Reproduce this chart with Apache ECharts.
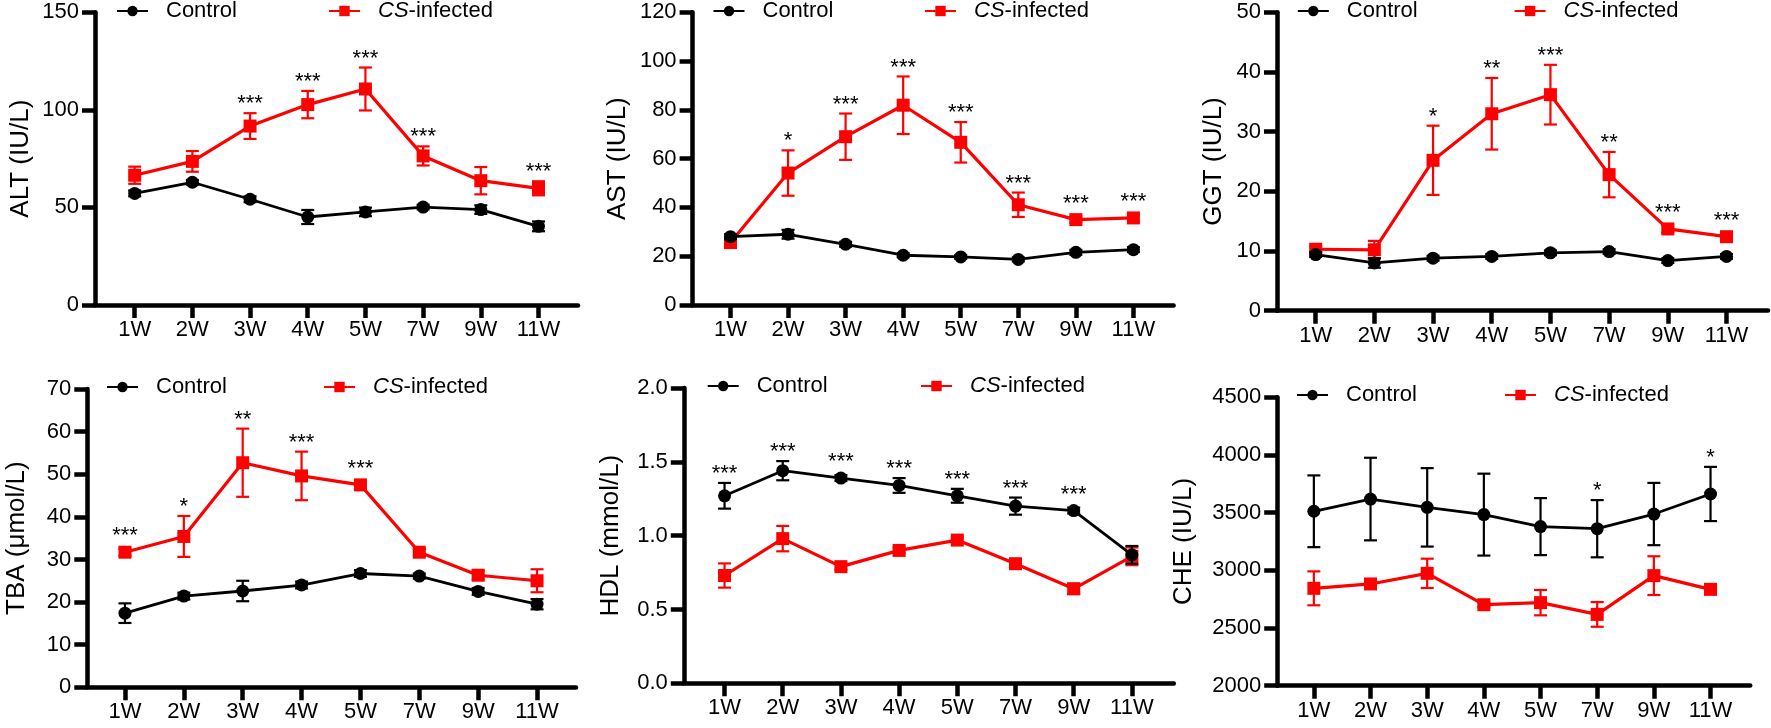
<!DOCTYPE html>
<html>
<head>
<meta charset="utf-8">
<script src="https://cdn.jsdelivr.net/npm/echarts@6/dist/echarts.min.js"></script>
<style>
  html, body { margin: 0; padding: 0; background: #fff; }
  #chart { width: 1771px; height: 728px; }
</style>
</head>
<body>
<div id="chart"></div>
<script>
const weeks = ['1W', '2W', '3W', '4W', '5W', '7W', '9W', '11W'];

const altControl = [57.2, 62.9, 54.2, 45.1, 47.7, 50.2, 48.9, 40.3];
const altControlErr = [1.5, 1.2, 1.5, 3.6, 2.2, 1.2, 2.2, 2.5];
const altInfected = [66.5, 73.6, 91.7, 102.7, 110.7, 76.4, 63.7, 59.8];
const altInfectedErr = [4.4, 5.3, 6.6, 7.0, 11.0, 4.9, 7.0, 3.6];
const altStars = ['', '', '***', '***', '***', '***', '', '***'];

const astControl = [28.0, 29.0, 24.9, 20.4, 19.7, 18.7, 21.6, 22.7];
const astControlErr = [1.0, 1.8, 1.0, 0.8, 0.8, 0.8, 1.0, 1.0];
const astInfected = [25.6, 54.1, 69.0, 81.9, 66.7, 41.1, 35.0, 35.7];
const astInfectedErr = [1.0, 9.3, 9.5, 11.8, 8.3, 5.0, 1.2, 1.5];
const astStars = ['', '*', '***', '***', '***', '***', '***', '***'];

const ggtControl = [9.4, 8.0, 8.8, 9.1, 9.7, 9.9, 8.4, 9.1];
const ggtControlErr = [0.4, 0.8, 0.4, 0.4, 0.4, 0.4, 0.4, 0.4];
const ggtInfected = [10.3, 10.2, 25.2, 33.0, 36.2, 22.8, 13.7, 12.4];
const ggtInfectedErr = [0.5, 1.5, 5.8, 6.0, 5.0, 3.8, 0.6, 0.6];
const ggtStars = ['', '', '*', '**', '***', '**', '***', '***'];

const tbaControl = [17.4, 21.4, 22.6, 24.0, 26.7, 26.1, 22.5, 19.5];
const tbaControlErr = [2.3, 0.8, 2.4, 0.8, 0.8, 0.6, 0.8, 1.2];
const tbaInfected = [31.7, 35.4, 52.7, 49.6, 47.5, 31.7, 26.3, 25.0];
const tbaInfectedErr = [0.8, 4.8, 8.0, 5.7, 1.0, 0.8, 1.0, 2.7];
const tbaStars = ['***', '*', '**', '***', '***', '', '', ''];

const hdlControl = [1.27, 1.44, 1.39, 1.34, 1.27, 1.20, 1.17, 0.87];
const hdlControlErr = [0.087, 0.065, 0.02, 0.05, 0.047, 0.058, 0.02, 0.06];
const hdlInfected = [0.73, 0.98, 0.79, 0.90, 0.97, 0.81, 0.64, 0.86];
const hdlInfectedErr = [0.082, 0.086, 0.02, 0.02, 0.02, 0.02, 0.035, 0.06];
const hdlStars = ['***', '***', '***', '***', '***', '***', '***', ''];

const cheControl = [3512, 3618, 3546, 3483, 3379, 3361, 3488, 3662];
const cheControlErr = [311, 358, 340, 355, 247, 248, 270, 235];
const cheInfected = [2844, 2882, 2974, 2702, 2720, 2618, 2954, 2835];
const cheInfectedErr = [147, 20, 127, 20, 110, 107, 168, 20];
const cheStars = ['', '', '', '', '', '*', '', '*'];

const RED = '#ff0000';
const BLACK = '#000000';
const FONT = '"Liberation Sans", Arial, Helvetica, sans-serif';

// one entry per panel: data refs + where it sits on the page
const panels = [
    { title: 'ALT (IU/L)', control: altControl, controlErr: altControlErr, infected: altInfected, infectedErr: altInfectedErr, stars: altStars, starsOn: 'infected',
      grid: { left: 95, top: 12.3, width: 483, height: 292.7 }, x: [-0.688, 7.685], y: [0, 150, 50], nameGap: 61, legendTop: 0, legendLeft: [116, 328] },
    { title: 'AST (IU/L)', control: astControl, controlErr: astControlErr, infected: astInfected, infectedErr: astInfectedErr, stars: astStars, starsOn: 'infected',
      grid: { left: 692.6, top: 12.3, width: 481, height: 292.7 }, x: [-0.658, 7.698], y: [0, 120, 20], nameGap: 62, legendTop: 0, legendLeft: [712.5, 924] },
    { title: 'GGT (IU/L)', control: ggtControl, controlErr: ggtControlErr, infected: ggtInfected, infectedErr: ggtInfectedErr, stars: ggtStars, starsOn: 'infected',
      grid: { left: 1277, top: 12.3, width: 491, height: 298.4 }, x: [-0.659, 7.707], y: [0, 50, 10], nameGap: 50, legendTop: 0, legendLeft: [1296.8, 1513.6] },
    { title: 'TBA (μmol/L)', control: tbaControl, controlErr: tbaControlErr, infected: tbaInfected, infectedErr: tbaInfectedErr, stars: tbaStars, starsOn: 'infected',
      grid: { left: 87.3, top: 389, width: 488.7, height: 298.3 }, x: [-0.64, 7.662], y: [0, 70, 10], nameGap: 57, legendTop: 376, legendLeft: [106, 323] },
    { title: 'HDL (mmol/L)', control: hdlControl, controlErr: hdlControlErr, infected: hdlInfected, infectedErr: hdlInfectedErr, stars: hdlStars, starsOn: 'control',
      grid: { left: 683.8, top: 388, width: 490, height: 295.3 }, x: [-0.70, 7.72], y: [0, 2, 0.5], nameGap: 60, legendTop: 375, legendLeft: [706.7, 920], decimals: 1 },
    { title: 'CHE (IU/L)', control: cheControl, controlErr: cheControlErr, infected: cheInfected, infectedErr: cheInfectedErr, stars: cheStars, starsOn: 'control',
      grid: { left: 1277.2, top: 397.3, width: 473, height: 288.4 }, x: [-0.647, 7.70], y: [2000, 4500, 500], nameGap: 80, legendTop: 384, legendLeft: [1296, 1504] },
];

const tickIdx = weeks.map((w, i) => i);

function errorBarItem(color) {
    return function (params, api) {
        const x = api.value(0), m = api.value(1), e = api.value(2);
        const top = api.coord([x, m + e]);
        const bot = api.coord([x, m - e]);
        const w = 6.5;
        const st = { stroke: color, lineWidth: 2.2 };
        return {
            type: 'group',
            children: [
                { type: 'line', shape: { x1: top[0], y1: top[1], x2: bot[0], y2: bot[1] }, style: st },
                { type: 'line', shape: { x1: top[0] - w, y1: top[1], x2: top[0] + w, y2: top[1] }, style: st },
                { type: 'line', shape: { x1: bot[0] - w, y1: bot[1], x2: bot[0] + w, y2: bot[1] }, style: st },
            ]
        };
    };
}

function starItem(labels) {
    return function (params, api) {
        const x = api.value(0), m = api.value(1), e = api.value(2);
        const label = labels[params.dataIndex];
        if (!label) return null;
        const topErr = api.coord([x, m + e])[1];
        const topMark = api.coord([x, m])[1] - 7;
        const y = Math.min(topErr, topMark) - 9;
        return {
            type: 'text',
            style: {
                x: api.coord([x, m])[0], y: y, text: label,
                fill: '#000', font: '22px ' + FONT, align: 'center', verticalAlign: 'middle'
            }
        };
    };
}

const grids = [], xAxes = [], yAxes = [], series = [], legends = [];

panels.forEach((p, k) => {
    grids.push(Object.assign({ containLabel: false }, p.grid));
    xAxes.push({
        type: 'value', gridIndex: k, min: p.x[0], max: p.x[1],
        axisLine: { show: true, onZero: false, lineStyle: { color: '#000', width: 4.5 } },
        axisTick: { show: true, length: 13, lineStyle: { color: '#000', width: 4.5 }, customValues: tickIdx },
        axisLabel: { customValues: tickIdx, formatter: v => weeks[Math.round(v)], color: '#000', fontSize: 22, fontFamily: FONT, margin: 14 },
        splitLine: { show: false }
    });
    yAxes.push({
        type: 'value', gridIndex: k, min: p.y[0], max: p.y[1], interval: p.y[2],
        name: p.title, nameLocation: 'middle', nameRotate: 90, nameGap: p.nameGap,
        nameTextStyle: { color: '#000', fontSize: 26, fontFamily: FONT },
        axisLine: { show: true, onZero: false, lineStyle: { color: '#000', width: 4.5 } },
        axisTick: { show: true, length: 13, lineStyle: { color: '#000', width: 4.5 } },
        axisLabel: { color: '#000', fontSize: 22, fontFamily: FONT, margin: 16,
            formatter: v => p.decimals ? v.toFixed(p.decimals) : String(v) },
        splitLine: { show: false }
    });

    const ctrlPts = p.control.map((v, i) => [i, v]);
    const infPts = p.infected.map((v, i) => [i, v]);
    const ctrlErr = p.control.map((v, i) => [i, v, p.controlErr[i]]);
    const infErr = p.infected.map((v, i) => [i, v, p.infectedErr[i]]);

    series.push({
        type: 'custom', xAxisIndex: k, yAxisIndex: k, z: 1, silent: true,
        renderItem: errorBarItem(RED), data: infErr
    });
    series.push({
        name: 'CS-infected', type: 'line', xAxisIndex: k, yAxisIndex: k, z: 2,
        data: infPts, symbol: 'rect', symbolSize: 13, showAllSymbol: true,
        lineStyle: { color: RED, width: 3.2 }, itemStyle: { color: RED }
    });
    series.push({
        type: 'custom', xAxisIndex: k, yAxisIndex: k, z: 3, silent: true,
        renderItem: errorBarItem(BLACK), data: ctrlErr
    });
    series.push({
        name: 'Control', type: 'line', xAxisIndex: k, yAxisIndex: k, z: 4,
        data: ctrlPts, symbol: 'circle', symbolSize: 13, showAllSymbol: true,
        lineStyle: { color: BLACK, width: 2.8 }, itemStyle: { color: BLACK }
    });
    series.push({
        type: 'custom', xAxisIndex: k, yAxisIndex: k, z: 5, silent: true,
        renderItem: starItem(p.stars),
        data: p.starsOn === 'control' ? ctrlErr : infErr
    });

    const legText = {
        color: '#000', fontSize: 22, fontFamily: FONT,
        rich: {
            p: { width: 13 },
            t: { fontSize: 22, fontFamily: FONT, color: '#000' },
            i: { fontSize: 22, fontFamily: FONT, color: '#000', fontStyle: 'italic' }
        }
    };
    legends.push({
        data: ['Control'], left: p.legendLeft[0], top: p.legendTop, padding: 0,
        itemWidth: 31, itemHeight: 13, selectedMode: false, textStyle: legText,
        formatter: () => '{p|}{t|Control}'
    });
    legends.push({
        data: ['CS-infected'], left: p.legendLeft[1], top: p.legendTop, padding: 0,
        itemWidth: 31, itemHeight: 13, selectedMode: false, textStyle: legText,
        formatter: () => '{p|}{i|CS}{t|-infected}'
    });
});

const chart = echarts.init(document.getElementById('chart'), null, { renderer: 'canvas' });
chart.setOption({
    animation: false,
    backgroundColor: '#fff',
    grid: grids,
    xAxis: xAxes,
    yAxis: yAxes,
    legend: legends,
    series: series
});
</script>
</body>
</html>
